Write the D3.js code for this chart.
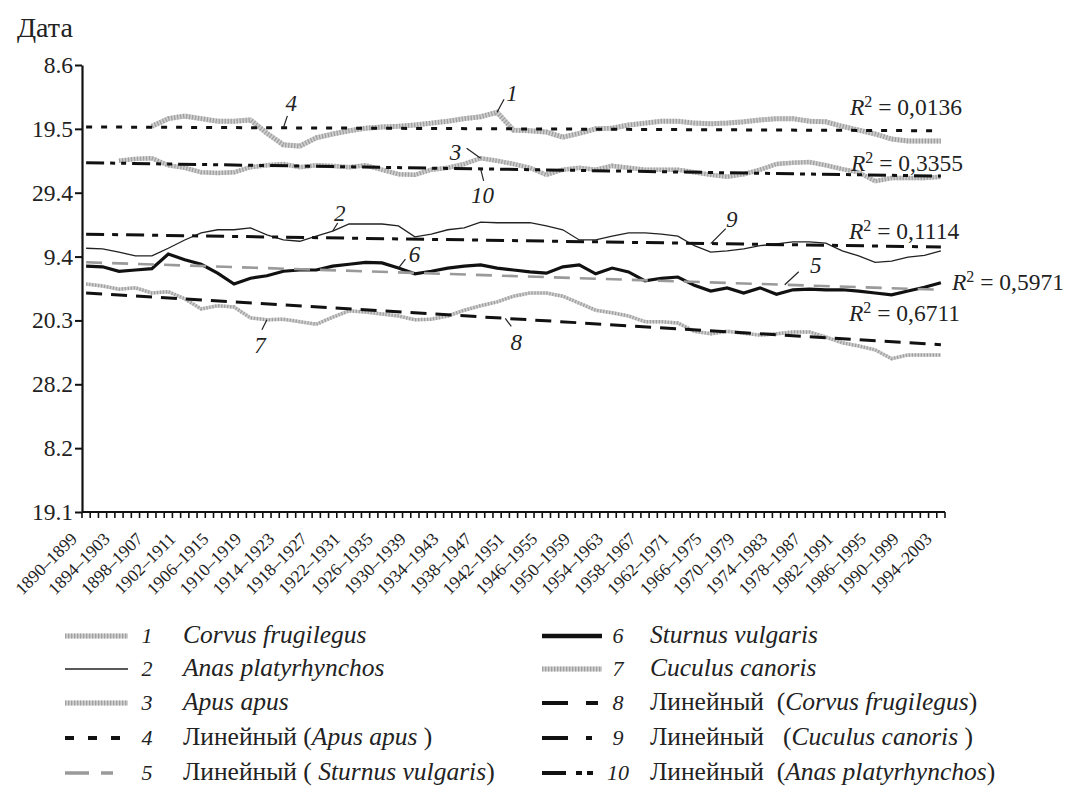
<!DOCTYPE html>
<html>
<head>
<meta charset="utf-8">
<script src="https://cdn.jsdelivr.net/npm/d3@7"></script>
<style>
  body { margin: 0; background: #fff; }
  svg { display: block; }
  svg text { font-family: "Liberation Serif", "Times New Roman", serif; }
</style>
</head>
<body>
<svg id="chart" width="1069" height="805"></svg>
<script>
// periods: start years 1890..1994 (each a 10-year window)
const startYears = d3.range(1890, 1995)
const periodLabel = y => y + "\u2013" + (y + 9)

// y axis labels, bottom to top (as printed)
const yTickLabels = ["19.1", "8.2", "28.2", "20.3", "9.4", "29.4", "19.5", "8.6"]
const yTickValues = [0, 10, 20, 30, 40, 50, 60, 70]

// series sampled every 2nd period, 1890..1994 (null = no data)
const sampleYears = d3.range(1890, 1995, 2)

const corvus = [null, null, null, null, 60.4, 61.6, 62.0, 61.6, 61.2, 61.2, 61.4, 59.3, 57.5, 57.3,
  58.6, 59.2, 59.7, 60.1, 60.3, 60.4, 60.6, 60.9, 61.2, 61.6, 61.9, 62.6, 59.8, 59.7, 59.5, 58.7,
  59.3, 60.0, 60.1, 60.6, 60.9, 61.2, 61.2, 60.9, 60.8, 60.9, 61.1, 61.4, 61.6, 61.6, 61.2, 61.1,
  60.4, 59.8, 59.2, 58.4, 58.1, 58.1, 58.1]

const anas = [41.3, 41.2, 40.7, 40.1, 40.1, 41.3, 42.6, 43.7, 44.2, 44.2, 44.5, 43.4, 42.6, 42.4,
  43.2, 44.0, 45.1, 45.1, 45.1, 44.8, 43.1, 43.5, 44.2, 44.5, 45.4, 45.3, 45.3, 45.3, 44.8, 44.2,
  42.6, 42.6, 43.2, 43.7, 43.7, 43.5, 43.2, 41.7, 40.7, 40.9, 41.2, 41.7, 42.0, 42.3, 42.3, 42.1,
  40.9, 40.1, 39.1, 39.3, 39.9, 40.2, 40.9]

const apus = [null, null, 55.0, 55.3, 55.4, 54.3, 53.9, 53.2, 53.1, 53.2, 54.0, 54.3, 54.5, 54.0,
  54.3, 54.2, 54.0, 54.3, 53.6, 52.9, 52.8, 53.6, 53.9, 54.5, 55.4, 55.0, 54.5, 53.9, 52.8, 53.6,
  53.9, 53.6, 54.2, 53.9, 53.6, 53.6, 53.6, 53.2, 52.8, 52.5, 52.9, 53.6, 54.5, 54.7, 54.8, 54.3,
  53.7, 53.2, 51.8, 52.3, 52.3, 52.3, 52.5]

const sturnus = [38.5, 38.4, 37.7, 37.9, 38.1, 40.4, 39.5, 38.8, 37.4, 35.7, 36.6, 37.0, 37.7, 37.9,
  37.9, 38.5, 38.8, 39.1, 39.0, 38.2, 37.3, 37.7, 38.2, 38.5, 38.7, 38.2, 37.9, 37.6, 37.4, 38.4,
  38.7, 37.3, 38.2, 37.6, 36.2, 36.6, 36.8, 35.5, 34.6, 35.1, 34.3, 35.1, 34.1, 34.8, 34.9, 34.8,
  34.8, 34.6, 34.3, 34.0, 34.6, 35.2, 35.9]

const cuculus = [35.7, 35.4, 34.9, 35.1, 34.3, 34.5, 33.4, 31.8, 32.3, 32.1, 30.4, 30.1, 30.2, 29.8,
  29.4, 30.5, 31.5, 31.3, 31.0, 30.7, 30.1, 30.2, 30.7, 31.6, 32.3, 32.9, 33.8, 34.3, 34.3, 33.8,
  32.7, 31.6, 31.2, 30.7, 29.8, 29.8, 29.6, 28.3, 27.9, 28.3, 28.0, 27.7, 27.9, 28.2, 28.2, 27.4,
  26.5, 26.0, 25.4, 24.0, 24.6, 24.6, 24.6]

// linear trends: value at 1890 and at 1994
const trendYears = [1890, 1994]
const trendApus = [60.3, 59.7]
const trendSturnus = [39.1, 34.8]
const trendCorvus = [34.3, 26.2]
const trendCuculus = [43.5, 41.5]
const trendAnas = [54.7, 52.6]

const r2Labels = ["0,0136", "0,3355", "0,1114", "0,5971", "0,6711"]

const width = 1069
const height = 805
const svg = d3.select("#chart")

const x = d3.scaleBand().domain(startYears).range([82, 945])
const xc = yr => x(yr) + x.bandwidth() / 2
const y = d3.scaleLinear().domain([0, 70]).range([512, 65])

// ---- axes
const yAxis = svg.append("g")
  .attr("transform", "translate(82,0)")
  .call(d3.axisLeft(y).tickValues(yTickValues).tickFormat((d, i) => yTickLabels[i]).tickSize(7).tickSizeOuter(0))
yAxis.attr("font-family", null).attr("font-size", null)
yAxis.select(".domain").attr("stroke", "#111").attr("stroke-width", 2.2)
yAxis.selectAll(".tick line").attr("stroke", "#111").attr("stroke-width", 2)
yAxis.selectAll(".tick text")
  .attr("x", -9)
  .style("font-size", "23.5px")
  .attr("fill", "#222")

svg.append("line")
  .attr("x1", 82).attr("x2", 945).attr("y1", y(0)).attr("y2", y(0))
  .attr("stroke", "#111").attr("stroke-width", 2.2)

// minor ticks at band edges
svg.append("g").selectAll("line")
  .data(startYears.concat([1995]))
  .join("line")
    .attr("x1", d => d === 1995 ? 945 : x(d))
    .attr("x2", d => d === 1995 ? 945 : x(d))
    .attr("y1", y(0)).attr("y2", y(0) + 6)
    .attr("stroke", "#111").attr("stroke-width", 1.6)

svg.append("g").selectAll("text")
  .data(startYears.filter((d, i) => i % 4 === 0))
  .join("text")
    .attr("transform", d => `translate(${xc(d) - 8},${y(0) + 28}) rotate(-45)`)
    .attr("text-anchor", "end")
    .style("font-size", "17.5px")
    .attr("fill", "#222")
    .text(periodLabel)

svg.append("text")
  .attr("x", 17).attr("y", 37)
  .style("font-size", "28px")
  .attr("fill", "#222")
  .text("Дата")

// ---- lines
const line = d3.line()
  .defined(d => d[1] != null)
  .x(d => xc(d[0]))
  .y(d => y(d[1]))
  .curve(d3.curveLinear)

const pairs = arr => sampleYears.map((yr, i) => [yr, arr[i]])
const trendPairs = arr => trendYears.map((yr, i) => [yr, arr[i]])

function texturedLine(data, w) {
  svg.append("path").attr("d", line(data)).attr("fill", "none")
    .attr("stroke", "#cfcfcf").attr("stroke-width", w)
  svg.append("path").attr("d", line(data)).attr("fill", "none")
    .attr("stroke", "#a0a0a0").attr("stroke-width", w).attr("stroke-dasharray", "1.3,1.7")
}

function plainLine(data, color, w, dash) {
  svg.append("path").attr("d", line(data)).attr("fill", "none")
    .attr("stroke", color).attr("stroke-width", w)
    .attr("stroke-dasharray", dash || null)
}

texturedLine(pairs(corvus), 5)
texturedLine(pairs(apus), 4.5)
texturedLine(pairs(cuculus), 3.5)
plainLine(pairs(anas), "#222", 1.3)
plainLine(pairs(sturnus), "#111", 3.2)

plainLine(trendPairs(trendApus), "#111", 3, "6,9")
plainLine(trendPairs(trendAnas), "#111", 3, "18,6,5,6,5,6")
plainLine(trendPairs(trendCuculus), "#111", 3, "18,8,6,8")
plainLine(trendPairs(trendSturnus), "#9a9a9a", 2.6, "16,10")
plainLine(trendPairs(trendCorvus), "#111", 3, "16,9")

// ---- R^2 labels
const r2Anchors = [
  { v: trendApus[1], x: 850, dy: -16 },
  { v: trendAnas[1], x: 851, dy: -5 },
  { v: trendCuculus[1], x: 849, dy: -8 },
  { v: trendSturnus[1], x: 952, dy: 0 },
  { v: trendCorvus[1], x: 849, dy: -24 }
]
r2Anchors.forEach((a, i) => {
  const t = svg.append("text")
    .attr("x", a.x).attr("y", y(a.v) + a.dy)
    .style("font-size", "23.5px").attr("fill", "#222")
  t.append("tspan").style("font-style", "italic").text("R")
  t.append("tspan").attr("dy", -8).style("font-size", "16px").text("2")
  t.append("tspan").attr("dy", 8).text(" = " + r2Labels[i])
})

// ---- number callouts (leader starts on a line at a given year)
const callouts = [
  { n: "4", yr: 1914, v: trendApus, trend: true, lx: 4, ly: -12, tx: 8, ty: -17 },
  { n: "1", yr: 1940, v: corvus, lx: 7, ly: -13, tx: 15, ty: -11 },
  { n: "3", yr: 1938, v: apus, lx: -14, ly: -10, tx: -25, ty: 2 },
  { n: "10", yr: 1938, v: trendAnas, trend: true, lx: 3, ly: 12, tx: 2, ty: 34 },
  { n: "2", yr: 1920, v: anas, lx: 5, ly: -8, tx: 7, ty: -10 },
  { n: "9", yr: 1966, v: trendCuculus, trend: true, lx: 15, ly: -15, tx: 21, ty: -17 },
  { n: "6", yr: 1928, v: sturnus, lx: 7, ly: -9, tx: 16, ty: -6 },
  { n: "5", yr: 1975, v: trendSturnus, trend: true, lx: 14, ly: -13, tx: 31, ty: -12 },
  { n: "7", yr: 1912, v: cuculus, lx: -5, ly: 10, tx: -7, ty: 33 },
  { n: "8", yr: 1941, v: trendCorvus, trend: true, lx: 6, ly: 8, tx: 11, ty: 32 }
]
function valueAt(c) {
  if (c.trend) {
    const t = (c.yr - trendYears[0]) / (trendYears[1] - trendYears[0])
    return c.v[0] + (c.v[1] - c.v[0]) * t
  }
  return c.v[sampleYears.indexOf(c.yr)]
}
callouts.forEach(c => {
  const px = xc(c.yr), py = y(valueAt(c))
  svg.append("line")
    .attr("x1", px).attr("y1", py).attr("x2", px + c.lx).attr("y2", py + c.ly)
    .attr("stroke", "#222").attr("stroke-width", 1.2)
  svg.append("text")
    .attr("x", px + c.tx).attr("y", py + c.ty)
    .attr("text-anchor", "middle")
    .style("font-style", "italic").style("font-size", "23px").attr("fill", "#222")
    .text(c.n)
})

// ---- legend
const legendItems = [
  { n: "1", kind: "tex", pre: "", name: "Corvus frugilegus", col: 0 },
  { n: "2", kind: "thin", pre: "", name: "Anas platyrhynchos", col: 0 },
  { n: "3", kind: "tex", pre: "", name: "Apus apus", col: 0 },
  { n: "4", kind: "dot", pre: "Линейный (", name: "Apus apus", post: " )", col: 0 },
  { n: "5", kind: "gray", pre: "Линейный ( ", name: "Sturnus vulgaris", post: ")", col: 0 },
  { n: "6", kind: "thick", pre: "", name: "Sturnus vulgaris", col: 1 },
  { n: "7", kind: "tex", pre: "", name: "Cuculus canoris", col: 1 },
  { n: "8", kind: "dash", pre: "Линейный  (", name: "Corvus frugilegus", post: ")", col: 1 },
  { n: "9", kind: "dashdot", pre: "Линейный   (", name: "Cuculus canoris", post: " )", col: 1 },
  { n: "10", kind: "dashdotdot", pre: "Линейный  (", name: "Anas platyrhynchos", post: ")", col: 1 }
]
const rowY = [643, 676, 710, 745, 780]
const colX = [{ s0: 65, s1: 128, num: 147, txt: 183 }, { s0: 542, s1: 602, num: 618, txt: 650 }]
const swatch = {
  tex: { c: "#cfcfcf", w: 5 },
  thin: { c: "#222", w: 1.5 },
  thick: { c: "#111", w: 4.5 },
  dot: { c: "#111", w: 4, d: "9,14" },
  gray: { c: "#9a9a9a", w: 3.5, d: "24,12,12,60" },
  dash: { c: "#111", w: 4, d: "26,18,12,60" },
  dashdot: { c: "#111", w: 4, d: "26,18,6,60" },
  dashdotdot: { c: "#111", w: 4, d: "24,10,6,5,6,60" }
}
legendItems.forEach((it, i) => {
  const c = colX[it.col]
  const yy = rowY[i % 5] - 7
  const s = swatch[it.kind]
  svg.append("line").attr("x1", c.s0).attr("x2", c.s1).attr("y1", yy).attr("y2", yy)
    .attr("stroke", s.c).attr("stroke-width", s.w).attr("stroke-dasharray", s.d || null)
  if (it.kind === "tex") {
    svg.append("line").attr("x1", c.s0).attr("x2", c.s1).attr("y1", yy).attr("y2", yy)
      .attr("stroke", "#a0a0a0").attr("stroke-width", 5).attr("stroke-dasharray", "1.3,1.7")
  }
  svg.append("text").attr("x", c.num).attr("y", rowY[i % 5])
    .attr("text-anchor", "middle")
    .style("font-style", "italic").style("font-size", "22px").attr("fill", "#222")
    .text(it.n)
  const t = svg.append("text").attr("x", c.txt).attr("y", rowY[i % 5])
    .style("font-size", "25.5px").attr("fill", "#222")
    .style("white-space", "pre")
  if (it.pre) t.append("tspan").text(it.pre)
  t.append("tspan").style("font-style", "italic").text(it.name)
  if (it.post) t.append("tspan").text(it.post)
})
</script>
</body>
</html>
